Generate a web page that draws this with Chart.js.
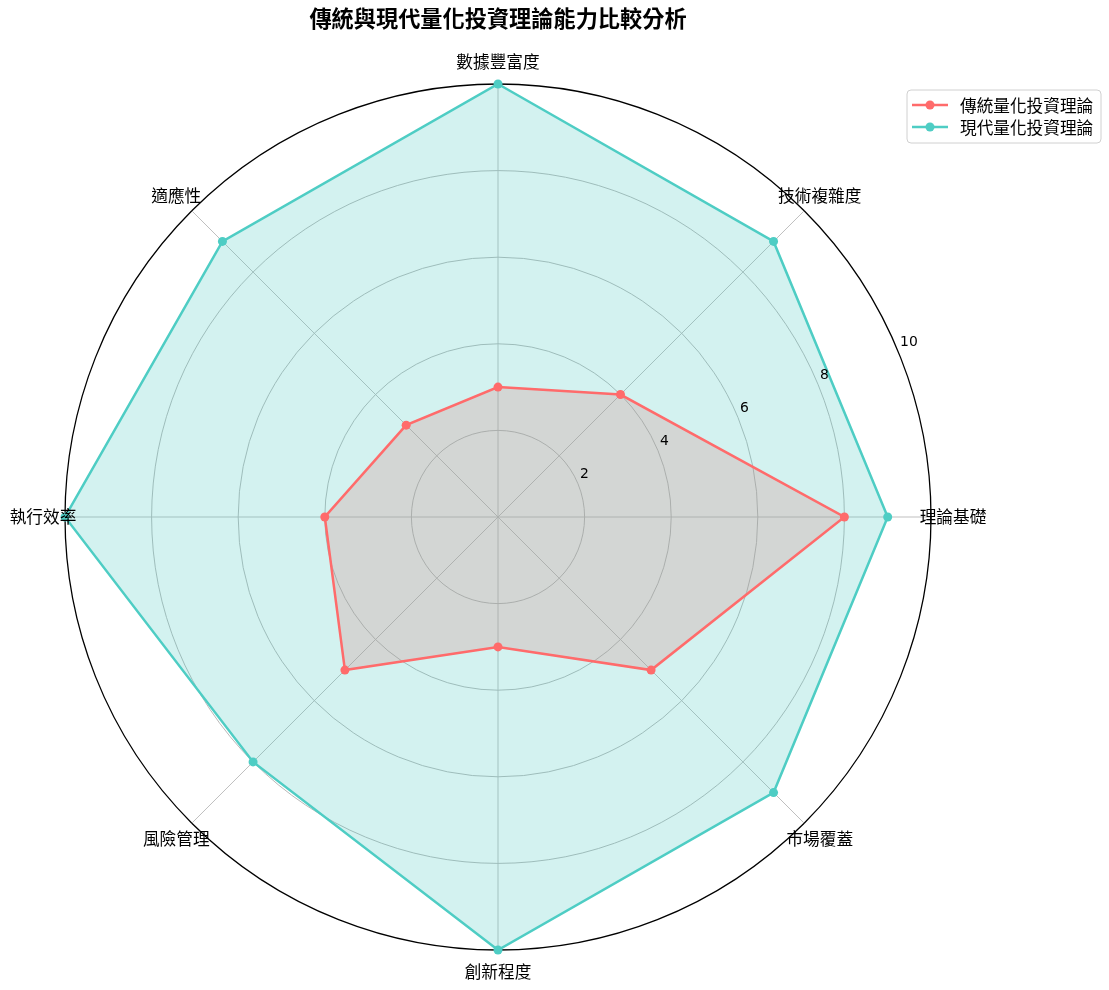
<!DOCTYPE html>
<html>
<head>
<meta charset="utf-8">
<script src="https://cdn.jsdelivr.net/npm/chart.js@4.4.1/dist/chart.umd.min.js"></script>
<style>
  html, body { margin: 0; padding: 0; background: #ffffff; }
  #wrap { width: 1109px; height: 990px; position: relative; }
</style>
</head>
<body>
<div id="wrap"><canvas id="c" width="1109" height="990"></canvas></div>
<script>
// ---- data (clockwise from top, as Chart.js draws a radar) ----
const categories = ['數據豐富度', '技術複雜度', '理論基礎', '市場覆蓋', '創新程度', '風險管理', '執行效率', '適應性'];
const traditionalScores = [3, 4, 8, 5, 3, 5, 4, 3];
const modernScores = [10, 9, 9, 9, 10, 8, 10, 9];
const seriesNames = ['傳統量化投資理論', '現代量化投資理論'];
const tickValues = [2, 4, 6, 8, 10];
const chartTitle = '傳統與現代量化投資理論能力比較分析';

const CJK = '"Noto Sans CJK TC", "Noto Sans CJK SC", "Noto Sans", sans-serif';
const RED = '#FF6B6B';
const TEAL = '#4ECDC4';

const overlay = {
  id: 'overlay',
  afterDraw(chart) {
    const ctx = chart.ctx;
    const s = chart.scales.r;
    ctx.save();
    ctx.fillStyle = '#000';

    // radial tick labels at 22.5 degrees
    const a = -22.5 * Math.PI / 180;
    ctx.font = '13.9px "DejaVu Sans", sans-serif';
    ctx.textAlign = 'left';
    ctx.textBaseline = 'middle';
    tickValues.forEach(v => {
      const d = s.getDistanceFromCenterForValue(v);
      ctx.fillText(String(v), s.xCenter + Math.cos(a) * d + 2, s.yCenter + Math.sin(a) * d - 9);
    });

    // category labels, centred on the spokes
    ctx.font = '16.67px ' + CJK;
    ctx.textAlign = 'center';
    categories.forEach((c, i) => {
      const p = s.getPointPosition(i, s.drawingArea + 22);
      ctx.fillText(c, p.x, p.y);
    });

    // title
    ctx.font = 'bold 22.2px ' + CJK;
    ctx.fillText(chartTitle, s.xCenter, 19);

    // legend
    const bx = 907, by = 90, bw = 194, bh = 53, r = 4;
    ctx.beginPath();
    ctx.moveTo(bx + r, by);
    ctx.arcTo(bx + bw, by, bx + bw, by + bh, r);
    ctx.arcTo(bx + bw, by + bh, bx, by + bh, r);
    ctx.arcTo(bx, by + bh, bx, by, r);
    ctx.arcTo(bx, by, bx + bw, by, r);
    ctx.closePath();
    ctx.fillStyle = 'rgba(255,255,255,0.8)';
    ctx.fill();
    ctx.strokeStyle = '#d0d0d0';
    ctx.lineWidth = 1;
    ctx.stroke();

    const order = [0, 1];
    order.forEach((di, k) => {
      const ds = chart.data.datasets[di];
      const y = 105 + k * 22;
      ctx.strokeStyle = ds.borderColor;
      ctx.lineWidth = 2.5;
      ctx.beginPath();
      ctx.moveTo(912, y);
      ctx.lineTo(948, y);
      ctx.stroke();
      ctx.fillStyle = ds.borderColor;
      ctx.beginPath();
      ctx.arc(930, y, 4.5, 0, Math.PI * 2);
      ctx.fill();
      ctx.fillStyle = '#000';
      ctx.font = '16.67px ' + CJK;
      ctx.textAlign = 'left';
      ctx.textBaseline = 'middle';
      ctx.fillText(ds.label, 960, y + 1);
    });
    ctx.restore();
  }
};

new Chart(document.getElementById('c'), {
  type: 'radar',
  data: {
    labels: categories,
    datasets: [
      {
        label: seriesNames[0],
        data: traditionalScores,
        order: 2,
        borderColor: RED,
        backgroundColor: 'rgba(255,107,107,0.25)',
        pointBackgroundColor: RED,
        pointBorderColor: RED,
        fill: true
      },
      {
        label: seriesNames[1],
        data: modernScores,
        order: 1,
        borderColor: TEAL,
        backgroundColor: 'rgba(78,205,196,0.25)',
        pointBackgroundColor: TEAL,
        pointBorderColor: TEAL,
        fill: true
      }
    ]
  },
  options: {
    responsive: false,
    animation: false,
    devicePixelRatio: 1,
    layout: { padding: { left: 65, right: 178, top: 84, bottom: 40 } },
    elements: {
      line: { borderWidth: 2.5, tension: 0 },
      point: { radius: 4.5, borderWidth: 0, hoverRadius: 4.5 }
    },
    plugins: {
      legend: { display: false },
      title: { display: false },
      tooltip: { enabled: false },
      filler: { drawTime: 'beforeDatasetsDraw' }
    },
    scales: {
      r: {
        min: 0,
        max: 10,
        ticks: { stepSize: 2, display: false },
        pointLabels: { display: false },
        grid: {
          circular: true,
          color: c => (c.tick && c.tick.value === 10) ? '#000000' : '#b0b0b0',
          lineWidth: c => (c.tick && c.tick.value === 10) ? 1.3 : 0.9
        },
        angleLines: { color: '#b8b8b8', lineWidth: 0.9 }
      }
    }
  },
  plugins: [overlay]
});
</script>
</body>
</html>
